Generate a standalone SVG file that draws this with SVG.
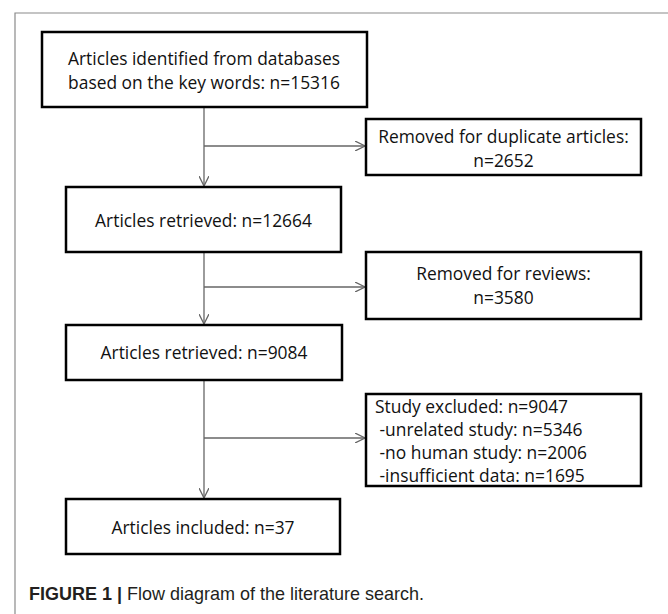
<svg xmlns="http://www.w3.org/2000/svg" width="668" height="614" viewBox="0 0 668 614">
<style>
.box{fill:#fff;stroke:#000;stroke-width:2.5}
.t{font-family:"Open Sans","Liberation Sans",sans-serif;font-size:17.4px;fill:#111}
.c{text-anchor:middle}
.con{fill:none;stroke:#666;stroke-width:1.3}
.frame{fill:none;stroke:#8a8a8a;stroke-width:1.2}
.cap{font-family:"Liberation Sans",Arial,sans-serif;font-size:19px;fill:#231f20}
</style>
<defs>
<marker id="arr" viewBox="0 0 10 10" refX="10" refY="5" markerWidth="10" markerHeight="10" markerUnits="userSpaceOnUse" orient="auto">
<path d="M0,0 L10,5 L0,10" fill="none" stroke="#666" stroke-width="1.3"/>
</marker>
</defs>
<rect width="668" height="614" fill="#fff"/>
<path class="frame" d="M15,614 V13 H668"/>
<g id="connectors">
<line class="con" x1="204" y1="107" x2="204" y2="186" marker-end="url(#arr)"/>
<line class="con" x1="204" y1="146" x2="365" y2="146" marker-end="url(#arr)"/>
<line class="con" x1="204" y1="252" x2="204" y2="324" marker-end="url(#arr)"/>
<line class="con" x1="204" y1="287" x2="365" y2="287" marker-end="url(#arr)"/>
<line class="con" x1="204" y1="380" x2="204" y2="498" marker-end="url(#arr)"/>
<line class="con" x1="204" y1="438" x2="365" y2="438" marker-end="url(#arr)"/>
</g>
<g id="n1">
<rect class="box" x="42" y="32" width="325" height="75"/>
<text class="t c" x="204" y="65">Articles identified from databases</text>
<text class="t c" x="204" y="89">based on the key words: n=15316</text>
</g>
<g id="r1">
<rect class="box" x="366" y="119" width="275" height="56"/>
<text class="t c" x="503.5" y="143">Removed for duplicate articles:</text>
<text class="t c" x="503.5" y="167">n=2652</text>
</g>
<g id="n2">
<rect class="box" x="66" y="187" width="275" height="65"/>
<text class="t c" x="203.5" y="227">Articles retrieved: n=12664</text>
</g>
<g id="r2">
<rect class="box" x="366" y="252" width="275" height="67"/>
<text class="t c" x="503.5" y="280">Removed for reviews:</text>
<text class="t c" x="503.5" y="304">n=3580</text>
</g>
<g id="n3">
<rect class="box" x="66" y="325" width="276" height="55"/>
<text class="t c" x="204" y="359">Articles retrieved: n=9084</text>
</g>
<g id="r3">
<rect class="box" x="366" y="394" width="275" height="92"/>
<text class="t" x="375" y="413">Study excluded: n=9047</text>
<text class="t" x="375" y="436" xml:space="preserve"> -unrelated study: n=5346</text>
<text class="t" x="375" y="459" xml:space="preserve"> -no human study: n=2006</text>
<text class="t" x="375" y="482" xml:space="preserve"> -insufficient data: n=1695</text>
</g>
<g id="n4">
<rect class="box" x="66" y="499" width="274" height="55"/>
<text class="t c" x="203" y="534">Articles included: n=37</text>
</g>
<text class="cap" x="29" y="600" textLength="395" lengthAdjust="spacingAndGlyphs"><tspan font-weight="bold">FIGURE 1 | </tspan>Flow diagram of the literature search.</text>
</svg>
